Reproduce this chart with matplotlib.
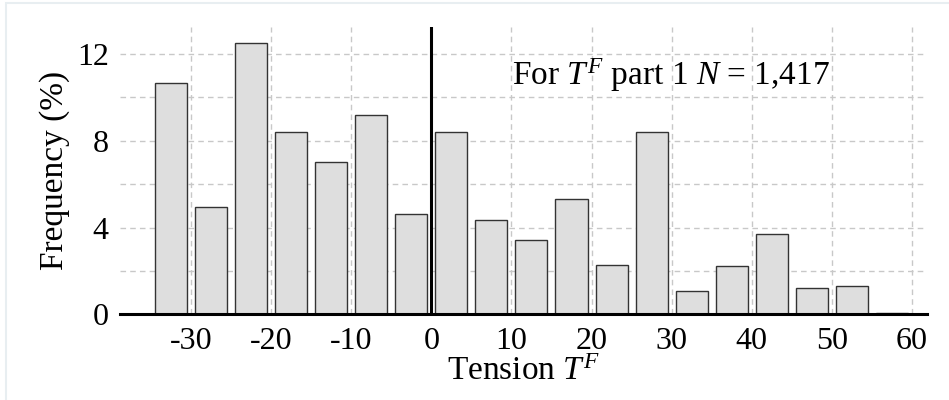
#!/usr/bin/env python3

import matplotlib
matplotlib.use("Agg")
from matplotlib import pyplot as plt
from matplotlib.patches import Rectangle

# histogram of tension T^F, bins of width 5
bin_centers = [-32.5, -27.5, -22.5, -17.5, -12.5, -7.5, -2.5,
               2.5, 7.5, 12.5, 17.5, 22.5, 27.5, 32.5, 37.5,
               42.5, 47.5, 52.5, 57.5]
frequency = [10.69, 4.97, 12.52, 8.43, 7.01, 9.20, 4.63,
             8.41, 4.34, 3.41, 5.32, 2.27, 8.41, 1.07, 2.21,
             3.69, 1.23, 1.31, 0.05]
x_ticks = [-30, -20, -10, 0, 10, 20, 30, 40, 50, 60]
x_ticklabels = ["-30", "-20", "-10", "0", "10", "20", "30", "40", "50", "60"]
y_ticks = [0, 4, 8, 12]
y_minor = [2, 6, 10]
note = "For $T^F$ part 1 $N$ = 1,417"

plt.rcParams["font.family"] = ["Liberation Serif", "DejaVu Serif"]
plt.rcParams["mathtext.fontset"] = "custom"
plt.rcParams["mathtext.rm"] = "Liberation Serif"
plt.rcParams["mathtext.it"] = "Liberation Serif:italic"
plt.rcParams["axes.unicode_minus"] = False


def create_figure():
    fig = plt.figure(figsize=(9.49, 4.00), dpi=100)
    ax = fig.add_axes([0.1264, 0.214, 0.8504, 0.7185])
    # faint frame around the picture
    fig.patches.append(Rectangle((0.0068, -0.05), 1.2, 1.043,
                                 transform=fig.transFigure, fill=False,
                                 edgecolor="#e8eef1", linewidth=1.5))
    return fig, ax


def main():
    fig, ax = create_figure()

    ax.bar(bin_centers, frequency, width=4.0, color="#dedede",
           edgecolor="#333333", linewidth=1.0, zorder=2)

    ax.set_xlim([-38.9, 61.9])
    ax.set_ylim([0, 13.25])

    ax.set_xticks(x_ticks)
    ax.set_xticklabels(x_ticklabels)
    ax.set_yticks(y_ticks)
    ax.set_yticks(y_minor, minor=True)
    ax.tick_params(axis="both", which="both", length=0, labelsize=23)
    ax.tick_params(axis="x", pad=9)
    ax.tick_params(axis="y", pad=8)

    ax.grid(True, which="both", color="#c8c8c8", linestyle=(0, (4, 3)),
            linewidth=1.0, zorder=0)
    ax.set_axisbelow(True)

    for side in ["left", "right", "top"]:
        ax.spines[side].set_visible(False)
    ax.spines["bottom"].set_linewidth(2.2)
    ax.spines["bottom"].set_zorder(4)

    ax.axvline(0, color="black", linewidth=2.2, zorder=4)

    ax.text(10.1, 11.05, note, fontsize=24, va="center", ha="left", zorder=5)

    ax.set_xlabel("Tension $T^F$", fontsize=24, labelpad=0)
    ax.set_ylabel("Frequency (%)", fontsize=24, labelpad=5)

    fig.savefig("out.png", dpi=100)


if __name__ == "__main__":
    main()
